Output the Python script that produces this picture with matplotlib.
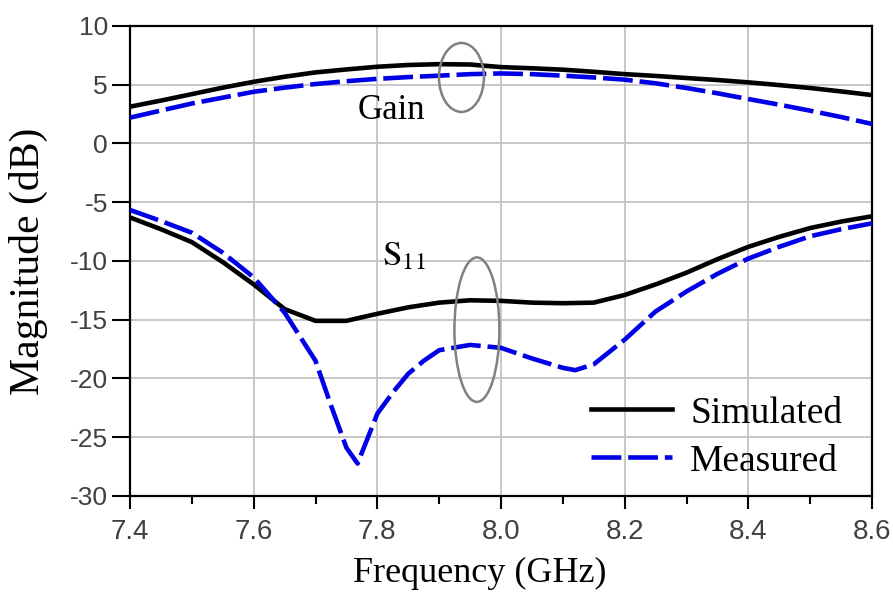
import matplotlib
matplotlib.use("Agg")
import matplotlib.pyplot as plt
from matplotlib.patches import Ellipse
from matplotlib.ticker import MultipleLocator

freq_gain = [7.40, 7.45, 7.50, 7.55, 7.60, 7.65, 7.70, 7.75, 7.80, 7.85, 7.90, 7.95,
             8.00, 8.05, 8.10, 8.15, 8.20, 8.25, 8.30, 8.35, 8.40, 8.45, 8.50, 8.55, 8.60]
gain_sim = [3.13, 3.65, 4.2, 4.75, 5.25, 5.68, 6.05, 6.3, 6.53, 6.68, 6.75, 6.72,
            6.5, 6.4, 6.28, 6.1, 5.9, 5.75, 5.57, 5.4, 5.2, 4.97, 4.72, 4.43, 4.12]
gain_meas = [2.2, 2.8, 3.4, 3.9, 4.4, 4.75, 5.06, 5.3, 5.5, 5.65, 5.77, 5.9,
             5.96, 5.9, 5.77, 5.62, 5.43, 5.12, 4.72, 4.27, 3.78, 3.3, 2.79, 2.25, 1.66]

freq_s11_sim = [7.40, 7.45, 7.50, 7.55, 7.60, 7.65, 7.70, 7.75, 7.80, 7.85, 7.90, 7.95,
                8.00, 8.05, 8.10, 8.15, 8.20, 8.25, 8.30, 8.35, 8.40, 8.45, 8.50, 8.55, 8.60]
s11_sim = [-6.3, -7.3, -8.4, -10.1, -12.0, -14.1, -15.1, -15.1, -14.5, -13.95, -13.55, -13.35,
           -13.4, -13.55, -13.6, -13.55, -12.9, -12.0, -11.0, -9.85, -8.8, -7.95, -7.2, -6.65, -6.2]

freq_s11_meas = [7.40, 7.45, 7.50, 7.55, 7.60, 7.65, 7.70, 7.725, 7.75, 7.768, 7.80, 7.825,
                 7.85, 7.875, 7.90, 7.95, 8.00, 8.05, 8.10, 8.12, 8.15, 8.20, 8.25, 8.30,
                 8.35, 8.40, 8.45, 8.50, 8.55, 8.60]
s11_meas = [-5.66, -6.6, -7.6, -9.3, -11.4, -14.4, -18.5, -22.3, -25.9, -27.25, -23.0, -21.2,
            -19.6, -18.5, -17.6, -17.15, -17.4, -18.3, -19.1, -19.3, -18.8, -16.7, -14.3, -12.6,
            -11.1, -9.8, -8.8, -7.9, -7.3, -6.8]

x_ticks = [7.4, 7.6, 7.8, 8.0, 8.2, 8.4, 8.6]
x_tick_labels = ["7.4", "7.6", "7.8", "8.0", "8.2", "8.4", "8.6"]
y_ticks = [10, 5, 0, -5, -10, -15, -20, -25, -30]

plt.rcParams['mathtext.fontset'] = 'stix'
plt.rcParams['axes.unicode_minus'] = False

fig = plt.figure(figsize=(8.93, 5.96), dpi=100)
ax = fig.add_axes([0.1456, 0.168, 0.8309, 0.7884])

serif = 'Liberation Serif'
sans = 'Liberation Sans'

lw = 3.3
blue = '#0000e6'
dash = (6.5, 1.5)
ax.plot(freq_gain, gain_sim, color='black', lw=lw, label='Simulated', zorder=3)
ax.plot(freq_gain, gain_meas, color=blue, lw=lw, dashes=dash, label='Measured', zorder=3)
ax.plot(freq_s11_sim, s11_sim, color='black', lw=lw, zorder=3)
ax.plot(freq_s11_meas, s11_meas, color=blue, lw=lw, dashes=dash, zorder=3)

ax.add_patch(Ellipse((7.936, 5.62), 0.0727, 5.87, fill=False, edgecolor='#808080', lw=1.8, zorder=4))
ax.add_patch(Ellipse((7.961, -15.85), 0.0727, 12.3, fill=False, edgecolor='#808080', lw=1.8, zorder=4))

ax.text(7.823, 2.8, 'Gain', family=serif, fontsize=25, ha='center', va='center')
ax.text(7.843, -9.5, r'$\mathrm{S}_{11}$', fontsize=25, ha='center', va='center')

ax.set_xlim(7.4, 8.6)
ax.set_ylim(-30, 10)
ax.set_xticks(x_ticks)
ax.set_xticklabels(x_tick_labels)
ax.set_yticks(y_ticks)
ax.xaxis.set_minor_locator(MultipleLocator(0.1))

ax.grid(True, which='major', color='#c4c4c4', lw=1.3, zorder=0)
ax.set_axisbelow(True)

ax.tick_params(axis='x', which='major', direction='out', length=9, width=1.5, pad=8,
               labelsize=20, labelcolor='#404040')
ax.tick_params(axis='x', which='minor', direction='out', length=6, width=1.5)
ax.tick_params(axis='y', which='major', direction='out', length=13, width=1.5, pad=3,
               labelsize=19, labelcolor='#404040')
for lab in ax.get_xticklabels() + ax.get_yticklabels():
    lab.set_family(sans)

for s in ax.spines.values():
    s.set_color('black')
    s.set_linewidth(1.6)

ax.set_xlabel('Frequency (GHz)', family=serif, fontsize=26)
ax.xaxis.set_label_coords(0.472, -0.13)
ax.set_ylabel('Magnitude (dB)', family=serif, fontsize=30)
ax.yaxis.set_label_coords(-0.11, 0.5)

leg = ax.legend(loc='lower right', bbox_to_anchor=(0.98, 0.005), frameon=False,
                prop={'family': serif, 'size': 27}, handlelength=2.15,
                handletextpad=0.48, labelspacing=0.36, borderaxespad=0.0)

fig.savefig('out.png', dpi=100)
